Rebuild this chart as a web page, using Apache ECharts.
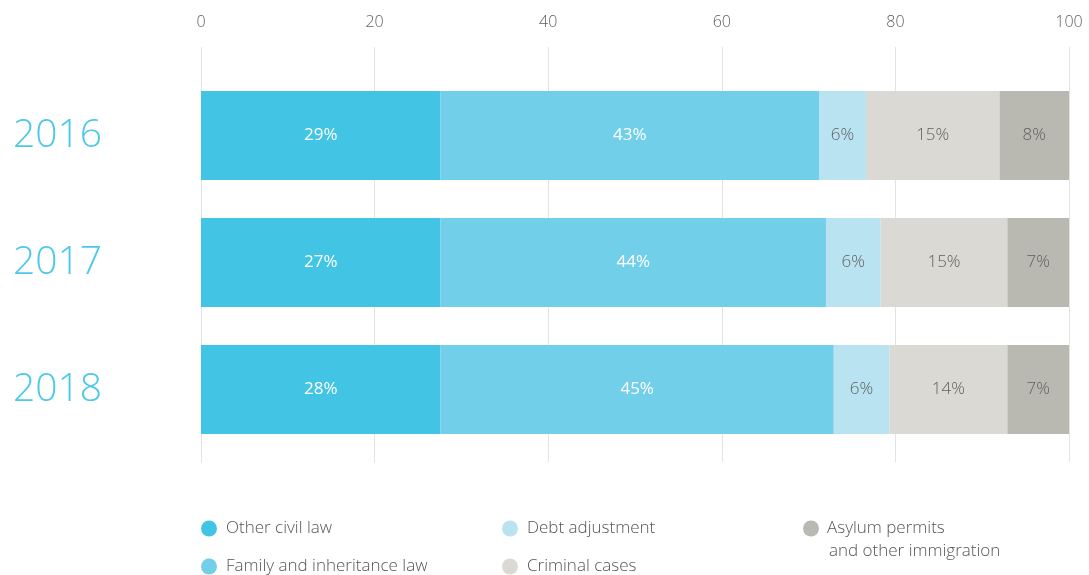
<!DOCTYPE html>
<html>
<head>
<meta charset="utf-8">
<script src="https://cdn.jsdelivr.net/npm/echarts@6/dist/echarts.min.js"></script>
<style>html,body{margin:0;padding:0;background:#fff;}#c{width:1089px;height:575px;}</style>
</head>
<body>
<div id="c"></div>
<script>
const years = ['2016', '2017', '2018'];
const seriesNames = ['Other civil law', 'Family and inheritance law', 'Debt adjustment', 'Criminal cases', 'Asylum permits and other immigration'];
const otherCivil = [27.6, 27.6, 27.6];
const family = [43.6, 44.4, 45.3];
const debt = [5.4, 6.3, 6.4];
const criminal = [15.4, 14.6, 13.6];
const asylum = [8.0, 7.1, 7.1];
const labelOther = ['29%', '27%', '28%'];
const labelFamily = ['43%', '44%', '45%'];
const labelDebt = ['6%', '6%', '6%'];
const labelCriminal = ['15%', '15%', '14%'];
const labelAsylum = ['8%', '7%', '7%'];
const xTicks = [0, 20, 40, 60, 80, 100];

const colors = ['#42c5e5', '#72cfe9', '#b9e3f1', '#dad9d4', '#bab9b1'];
const values = [otherCivil, family, debt, criminal, asylum];
const labels = [labelOther, labelFamily, labelDebt, labelCriminal, labelAsylum];
const labelColors = ['#ffffff', '#ffffff', '#5f5f5f', '#5f5f5f', '#5f5f5f'];
const FONT = "'Open Sans', 'Noto Sans', sans-serif";

const chart = echarts.init(document.getElementById('c'));
const series = values.map((v, i) => ({
  name: seriesNames[i],
  type: 'bar',
  stack: 'total',
  xAxisIndex: 0,
  yAxisIndex: 0,
  barWidth: 89,
  data: v,
  itemStyle: { color: colors[i] },
  emphasis: { disabled: true },
  label: {
    show: true,
    position: 'inside',
    color: labelColors[i],
    fontSize: 17,
    fontFamily: FONT,
    fontWeight: i < 2 ? 400 : 300,
    formatter: p => labels[i][p.dataIndex]
  }
}));

chart.setOption({
  animation: false,
  backgroundColor: '#ffffff',
  grid: [
    { left: 201, width: 868, top: 72, height: 381 },
    { left: 201, width: 868, top: 47, height: 415 }
  ],
  xAxis: [
    { gridIndex: 0, type: 'value', min: 0, max: 100, show: false },
    {
      gridIndex: 1, type: 'value', min: xTicks[0], max: xTicks[xTicks.length - 1], interval: 20,
      position: 'top',
      axisLine: { show: false }, axisTick: { show: false },
      axisLabel: { margin: 17, color: '#5f5f5f', fontSize: 16, fontFamily: FONT, fontWeight: 300 },
      splitLine: { show: true, lineStyle: { color: '#e3e3e3', width: 1 } }
    }
  ],
  yAxis: [
    {
      gridIndex: 0, type: 'category', data: years, inverse: true,
      axisLine: { show: false }, axisTick: { show: false },
      axisLabel: { align: 'left', margin: 188, color: '#4cc8e8', fontSize: 39, fontFamily: FONT, fontWeight: 300, padding: [0, 0, 6, 0] }
    },
    { gridIndex: 1, type: 'value', min: 0, max: 1, show: false }
  ],
  legend: [
    {
      left: 201, top: 520, orient: 'vertical', padding: 0, itemGap: 21,
      itemWidth: 16, itemHeight: 16, icon: 'circle', selectedMode: false,
      data: [seriesNames[0], seriesNames[1]],
      textStyle: { color: '#555555', fontSize: 17, lineHeight: 16, fontFamily: FONT, fontWeight: 300, padding: [0, 0, 0, 4] }
    },
    {
      left: 502, top: 520, orient: 'vertical', padding: 0, itemGap: 21,
      itemWidth: 16, itemHeight: 16, icon: 'circle', selectedMode: false,
      data: [seriesNames[2], seriesNames[3]],
      textStyle: { color: '#555555', fontSize: 17, lineHeight: 16, fontFamily: FONT, fontWeight: 300, padding: [0, 0, 0, 4] }
    },
    {
      left: 803, top: 520, orient: 'vertical', padding: 0,
      itemWidth: 16, itemHeight: 16, icon: 'circle', selectedMode: false,
      data: [seriesNames[4]],
      formatter: () => 'Asylum permits',
      textStyle: { color: '#555555', fontSize: 17, lineHeight: 16, fontFamily: FONT, fontWeight: 300, padding: [0, 0, 0, 3] }
    }
  ],
  graphic: [
    {
      type: 'text', left: 829, top: 543, silent: true,
      style: { text: 'and other immigration', fill: '#555555', fontSize: 17, fontFamily: FONT, fontWeight: 300 }
    }
  ],
  series: series
});
</script>
</body>
</html>
